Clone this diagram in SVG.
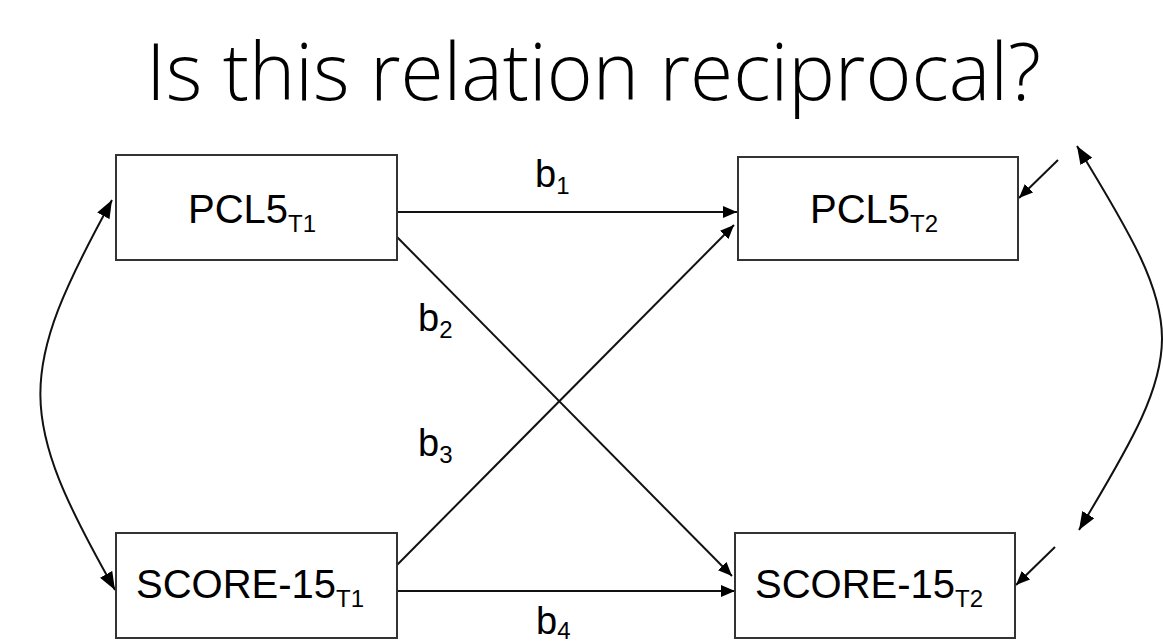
<svg xmlns="http://www.w3.org/2000/svg" width="1163" height="643" viewBox="0 0 1163 643">
  <style>
    .box { fill: #ffffff; stroke: #333333; stroke-width: 2; }
    .lbl { font-family: "Liberation Sans", Arial, sans-serif; font-size: 40px; fill: #000000; }
    .sub { font-size: 24px; }
    .coef { font-family: "Liberation Sans", Arial, sans-serif; font-size: 38px; fill: #000000; }
    .edge { fill: none; stroke: #111111; stroke-width: 2; }
    .title { font-family: "Open Sans", "Lato", sans-serif; font-weight: 300; font-size: 80px; fill: #000000; }
  </style>
  <defs>
    <marker id="arr" markerUnits="userSpaceOnUse" markerWidth="14" markerHeight="12" refX="14" refY="6" orient="auto">
      <path d="M0,0 L14,6 L0,12 z" fill="#000000"/>
    </marker>
    <marker id="arrBig" markerUnits="userSpaceOnUse" markerWidth="18" markerHeight="14" refX="18" refY="7" orient="auto-start-reverse">
      <path d="M0,0 L18,7 L0,14 z" fill="#000000"/>
    </marker>
  </defs>

  <rect width="1163" height="643" fill="#ffffff"/>

  <text class="title" x="146" y="100" textLength="895" lengthAdjust="spacingAndGlyphs">Is this relation reciprocal?</text>

  <!-- connectors -->
  <g id="connectors">
    <line class="edge" x1="397" y1="212" x2="737" y2="212" marker-end="url(#arr)"/>
    <line class="edge" x1="397" y1="237" x2="732" y2="576" marker-end="url(#arr)"/>
    <line class="edge" x1="397" y1="565" x2="734" y2="225" marker-end="url(#arr)"/>
    <line class="edge" x1="397" y1="591" x2="735" y2="591" marker-end="url(#arr)"/>
    <!-- residual arrows -->
    <line class="edge" x1="1058" y1="160" x2="1019" y2="198" marker-end="url(#arr)"/>
    <line class="edge" x1="1055" y1="547" x2="1016" y2="585" marker-end="url(#arr)"/>
    <!-- covariances -->
    <path class="edge" d="M112,200 C16,375 16,415 115,590" marker-start="url(#arrBig)" marker-end="url(#arrBig)"/>
    <path class="edge" d="M1077,146 C1190,330 1190,346 1079,530" marker-start="url(#arrBig)" marker-end="url(#arrBig)"/>
  </g>

  <!-- path coefficients -->
  <g id="coefficients">
    <text class="coef" x="535" y="187">b<tspan class="sub" dy="7">1</tspan></text>
    <text class="coef" x="418" y="331">b<tspan class="sub" dy="7">2</tspan></text>
    <text class="coef" x="418" y="456">b<tspan class="sub" dy="7">3</tspan></text>
    <text class="coef" x="536" y="634">b<tspan class="sub" dy="5">4</tspan></text>
  </g>

  <g id="pcl5_t1">
    <rect class="box" x="116" y="155" width="281" height="105"/>
    <text class="lbl" x="188" y="223">PCL5<tspan class="sub" dy="9">T1</tspan></text>
  </g>
  <g id="pcl5_t2">
    <rect class="box" x="738" y="157" width="280" height="103"/>
    <text class="lbl" x="810" y="223">PCL5<tspan class="sub" dy="9">T2</tspan></text>
  </g>
  <g id="score15_t1">
    <rect class="box" x="116" y="533" width="281" height="105"/>
    <text class="lbl" x="136" y="598">SCORE-15<tspan class="sub" dy="9">T1</tspan></text>
  </g>
  <g id="score15_t2">
    <rect class="box" x="735" y="533" width="280" height="105"/>
    <text class="lbl" x="755" y="598">SCORE-15<tspan class="sub" dy="9">T2</tspan></text>
  </g>
</svg>
